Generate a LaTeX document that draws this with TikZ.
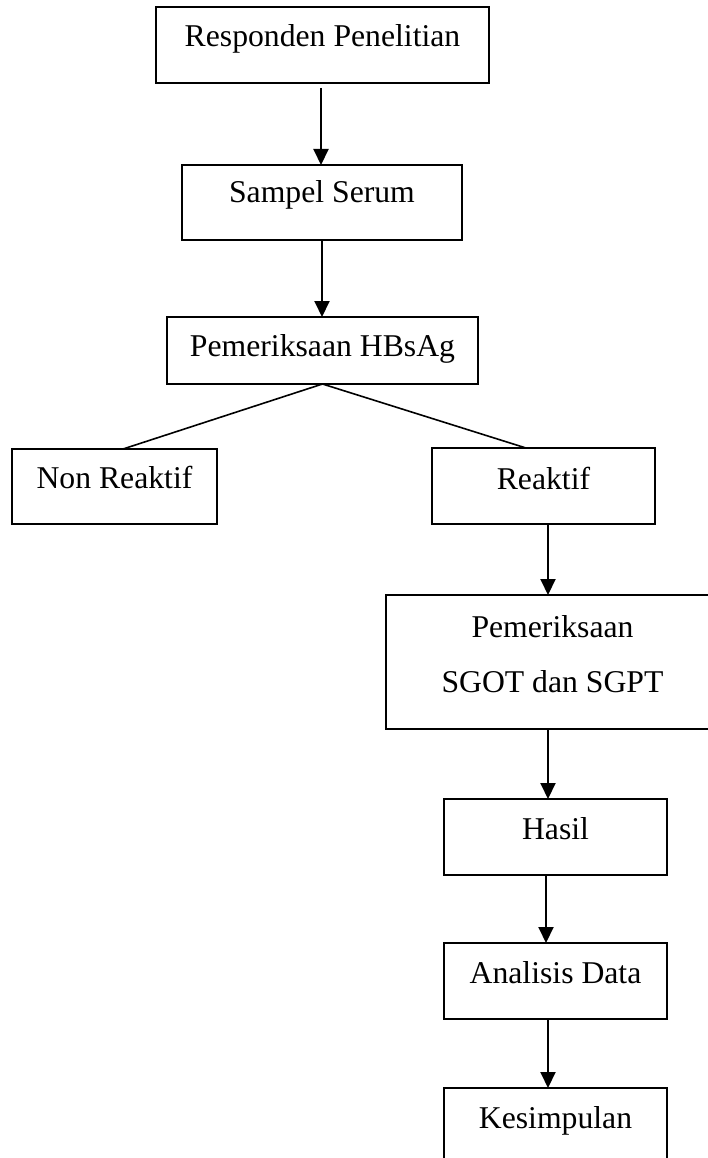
\documentclass[tikz,border=0pt]{standalone}
\usepackage{fontspec}
\setmainfont{Liberation Serif}
\usetikzlibrary{arrows.meta}
\begin{document}
\begin{tikzpicture}[x=1pt,y=-1pt,
  box/.style={draw, line width=1.3pt, inner sep=0pt, outer sep=0pt, anchor=north,
    font=\fontsize{31.7}{38}\selectfont},
  arr/.style={line width=2pt, -{Triangle[width=15pt,length=16pt]}},
  link/.style={line width=1.6pt}]
\useasboundingbox (0,0) rectangle (708,1158);
\clip (0,0) rectangle (708,1158);
\node[box, minimum width=333pt, text height=40pt, text depth=36pt] (resp) at (322.5,7) {Responden Penelitian};
\node[box, minimum width=280pt, text height=38pt, text depth=37pt] (samp) at (322,165) {Sampel Serum};
\node[box, minimum width=311pt, text height=39pt, text depth=28pt] (hbs) at (322.5,317) {Pemeriksaan HBsAg};
\node[box, minimum width=205pt, text height=39pt, text depth=36pt] (non) at (114.5,449) {Non Reaktif};
\node[box, minimum width=223pt, text height=41pt, text depth=35pt] (rea) at (543.5,448) {Reaktif};
\node[box, minimum width=333pt, text height=42pt, text depth=92pt] (sgot) at (552.5,595)
  {\begin{tabular}[t]{@{}c@{}}Pemeriksaan\\[17pt]SGOT dan SGPT\end{tabular}};
\node[box, minimum width=223pt, text height=40pt, text depth=36pt] (has) at (555.5,799) {Hasil};
\node[box, minimum width=223pt, text height=40pt, text depth=36pt] (ana) at (555.5,943) {Analisis Data};
\node[box, minimum width=223pt, text height=40pt, text depth=42pt] (kes) at (555.5,1088) {Kesimpulan};
\draw[arr, shorten <=5pt] ([xshift=-1.5pt]resp.south) -- ([xshift=-1.5pt]resp.south |- samp.north);
\draw[arr] (samp.south) -- (samp.south |- hbs.north);
\draw[link] (hbs.south) -- ([xshift=8.5pt]non.north);
\draw[link] (hbs.south) -- ([xshift=-17.5pt]rea.north);
\draw[arr] ([xshift=4.5pt]rea.south) -- ([xshift=4.5pt]rea.south |- sgot.north);
\draw[arr] ([xshift=-4.5pt]sgot.south) -- ([xshift=-4.5pt]sgot.south |- has.north);
\draw[arr] ([xshift=-9.5pt]has.south) -- ([xshift=-9.5pt]has.south |- ana.north);
\draw[arr] ([xshift=-7.5pt]ana.south) -- ([xshift=-7.5pt]ana.south |- kes.north);
\end{tikzpicture}
\end{document}
